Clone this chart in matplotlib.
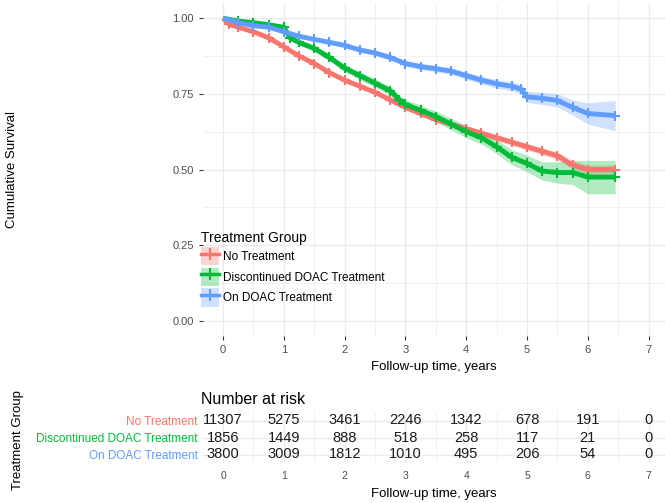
import matplotlib
matplotlib.use("Agg")
import matplotlib.pyplot as plt
from matplotlib.patches import Patch
from matplotlib.lines import Line2D
import numpy as np

plt.rcParams['font.family'] = ['Liberation Sans', 'DejaVu Sans']

# survival curves (time in years, survival, CI half width)
groups = ["No Treatment", "Discontinued DOAC Treatment", "On DOAC Treatment"]
colors = ["#F8766D", "#00BA38", "#619CFF"]

t_none = [0, 0.1, 0.25, 0.5, 0.75, 1.0, 1.25, 1.5, 1.75, 2.0, 2.25, 2.5, 2.75, 3.0,
          3.25, 3.5, 3.75, 4.0, 4.25, 4.5, 4.75, 5.0, 5.25, 5.5, 5.75, 6.0, 6.45]
s_none = [1.0, 0.98, 0.97, 0.955, 0.935, 0.905, 0.875, 0.85, 0.82, 0.795, 0.775, 0.755,
          0.73, 0.705, 0.685, 0.665, 0.65, 0.635, 0.62, 0.605, 0.59, 0.575, 0.56, 0.545,
          0.515, 0.50, 0.50]
ci_none = [0, 0.002, 0.003, 0.004, 0.004, 0.005, 0.005, 0.006, 0.006, 0.006, 0.007, 0.007,
           0.007, 0.008, 0.008, 0.008, 0.009, 0.009, 0.01, 0.01, 0.011, 0.011, 0.012, 0.013,
           0.014, 0.015, 0.015]

t_disc = [0, 0.25, 0.5, 0.75, 1.0, 1.1, 1.25, 1.5, 1.75, 2.0, 2.25, 2.5, 2.75, 2.9, 3.0,
          3.25, 3.5, 3.75, 4.0, 4.25, 4.5, 4.75, 5.0, 5.25, 5.5, 5.75, 6.0, 6.45]
s_disc = [1.0, 0.99, 0.985, 0.978, 0.97, 0.935, 0.92, 0.9, 0.87, 0.835, 0.81, 0.785, 0.76,
          0.73, 0.715, 0.695, 0.675, 0.65, 0.625, 0.605, 0.575, 0.54, 0.52, 0.495, 0.49,
          0.49, 0.475, 0.475]
ci_disc = [0, 0.004, 0.005, 0.006, 0.007, 0.008, 0.009, 0.01, 0.011, 0.012, 0.013, 0.014,
           0.015, 0.016, 0.016, 0.017, 0.018, 0.019, 0.02, 0.021, 0.023, 0.025, 0.027, 0.03,
           0.035, 0.04, 0.055, 0.055]

t_on = [0, 0.25, 0.5, 0.75, 1.0, 1.25, 1.5, 1.75, 2.0, 2.25, 2.5, 2.75, 3.0, 3.25, 3.5,
        3.75, 4.0, 4.25, 4.5, 4.75, 4.9, 5.0, 5.25, 5.5, 5.75, 6.0, 6.45]
s_on = [1.0, 0.985, 0.975, 0.97, 0.955, 0.94, 0.93, 0.92, 0.91, 0.895, 0.885, 0.87, 0.85,
        0.84, 0.833, 0.825, 0.81, 0.795, 0.783, 0.775, 0.765, 0.74, 0.735, 0.728, 0.705,
        0.685, 0.678]
ci_on = [0, 0.003, 0.004, 0.005, 0.005, 0.006, 0.006, 0.007, 0.007, 0.008, 0.008, 0.009,
         0.009, 0.01, 0.01, 0.011, 0.012, 0.013, 0.014, 0.015, 0.016, 0.018, 0.02, 0.022,
         0.025, 0.035, 0.05]

curves = [(t_none, s_none, ci_none), (t_disc, s_disc, ci_disc), (t_on, s_on, ci_on)]

# number at risk table
risk_times = [0, 1, 2, 3, 4, 5, 6, 7]
risk_none = [11307, 5275, 3461, 2246, 1342, 678, 191, 0]
risk_disc = [1856, 1449, 888, 518, 258, 117, 21, 0]
risk_on = [3800, 3009, 1812, 1010, 495, 206, 54, 0]
risk = [risk_none, risk_disc, risk_on]

W, H = 665, 503
fig = plt.figure(figsize=(W / 100, H / 100), dpi=100)

xlim = (-0.33, 7.27)
grid_c = "#EBEBEB"
tick_c = "#4D4D4D"

# survival panel
ax = fig.add_axes([203 / W, 1 - 336 / H, 462 / W, 333 / H])
for (t, s, ci), c in zip(curves, colors):
    t = np.array(t); s = np.array(s); ci = np.array(ci)
    ax.fill_between(t, s - ci, s + ci, color=c, alpha=0.3, lw=0)
    ax.plot(t, s, color=c, lw=3.5, solid_capstyle="butt")
    ax.plot(t[1:], s[1:], ls="none", marker="+", ms=7, mew=1.5, color=c)

ax.set_xlim(xlim)
ax.set_ylim(-0.05, 1.05)
ax.set_xticks(range(8))
ax.set_xticks(np.arange(0.5, 7.5, 1), minor=True)
ax.set_yticks([0, 0.25, 0.5, 0.75, 1.0])
ax.set_yticklabels(["0.00", "0.25", "0.50", "0.75", "1.00"])
ax.set_yticks([0.125, 0.375, 0.625, 0.875], minor=True)
ax.grid(True, which="major", color=grid_c, lw=1.0)
ax.grid(True, which="minor", color=grid_c, lw=0.5)
ax.set_axisbelow(True)
for sp in ax.spines.values():
    sp.set_visible(False)
ax.tick_params(which="major", length=3, color="#333333", labelcolor=tick_c, labelsize=8)
ax.tick_params(which="minor", length=0)
ax.set_xlabel("Follow-up time, years", fontsize=9.5, color="black", labelpad=4)
ax.set_ylabel("Cumulative Survival", fontsize=9.5, color="black")
ax.yaxis.set_label_coords(-(203 - 18) / 462, 0.5)

handles = []
for c in colors:
    handles.append((Patch(facecolor=c, alpha=0.3, lw=0),
                    Line2D([], [], color=c, lw=2.5, marker="+", ms=8, mew=1.5)))
leg = ax.legend(handles, groups, title="Treatment Group", loc="upper left",
                bbox_to_anchor=(-0.015, 0.33), frameon=False, fontsize=8.5,
                title_fontsize=10, handlelength=1.5, handleheight=2.0,
                labelspacing=0.2, handletextpad=0.4, borderaxespad=0)
leg._legend_box.align = "left"

# number at risk panel
tx = fig.add_axes([203 / W, 1 - 463 / H, 462 / W, 51 / H])
tx.set_xlim(xlim)
tx.set_ylim(3.5, 0.5)
for i, row in enumerate(risk):
    for xv, n in zip(risk_times, row):
        tx.text(xv, i + 1, str(n), ha="center", va="center", fontsize=10.5, color="#1a1a1a")
tx.set_xticks(risk_times)
tx.set_xticks(np.arange(0.5, 7.5, 1), minor=True)
tx.set_yticks([1, 2, 3])
tx.set_yticklabels(groups)
for lab, c in zip(tx.get_yticklabels(), colors):
    lab.set_color(c)
tx.grid(True, which="major", color=grid_c, lw=1.0)
tx.grid(True, which="minor", axis="x", color=grid_c, lw=0.5)
tx.set_axisbelow(True)
for sp in tx.spines.values():
    sp.set_visible(False)
tx.tick_params(axis="x", which="both", length=0, labelcolor=tick_c, labelsize=7.5, pad=6)
tx.tick_params(axis="y", which="both", length=0, labelsize=8.5, pad=4)
tx.set_xlabel("Follow-up time, years", fontsize=9.5, color="black", labelpad=5)
tx.set_title("Number at risk", loc="left", fontsize=11.5, pad=6, x=-0.005)
fig.text(18 / W, 1 - 440 / H, "Treatment Group", rotation=90, ha="center", va="center",
         fontsize=9.5)

fig.savefig("out.png", dpi=100)
